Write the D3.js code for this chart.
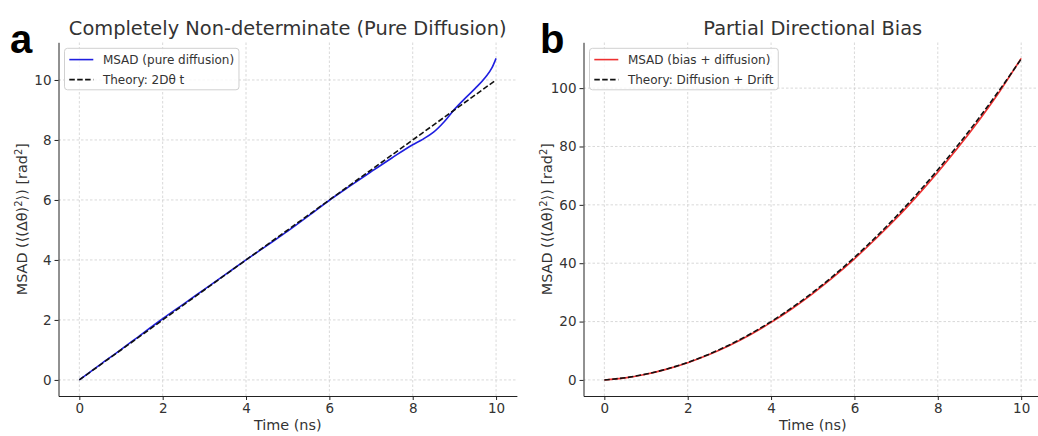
<!DOCTYPE html>
<html>
<head>
<meta charset="utf-8">
<script src="https://cdn.jsdelivr.net/npm/d3@7"></script>
<style>
body { margin: 0; background: #fff; }
text { font-family: "DejaVu Sans", sans-serif; fill: #333; }
.panelLetter { font-family: "Liberation Sans", Arial, sans-serif; font-weight: bold; fill: #000; }
</style>
</head>
<body>
<div class="chart"></div>
<script>
// panel a: pure diffusion
var timeA = [0, 0.5, 1, 1.5, 2, 2.5, 3, 3.5, 4, 4.5, 5, 5.5, 6, 6.5, 7, 7.5, 8, 8.25, 8.5, 8.75, 9, 9.25, 9.5, 9.75, 9.9, 10];
var msadA = [0, 0.51, 1.01, 1.53, 2.04, 2.53, 3.02, 3.51, 4.0, 4.48, 4.96, 5.47, 5.99, 6.47, 6.94, 7.4, 7.84, 8.03, 8.26, 8.6, 9.02, 9.38, 9.72, 10.1, 10.4, 10.72];
var theoryTimeA = [0, 10];
var theoryA = [0, 10];

// panel b: bias + diffusion
var timeB = [0, 0.5, 1, 1.5, 2, 2.5, 3, 3.5, 4, 4.5, 5, 5.5, 6, 6.5, 7, 7.5, 8, 8.5, 9, 9.5, 10];
var msadB = [0, 0.7, 1.95, 3.7, 5.9, 8.6, 11.8, 15.5, 19.7, 24.4, 29.6, 35.3, 41.5, 48.2, 55.3, 63.0, 71.2, 79.9, 89.2, 99.2, 110.2];
var theoryB = [0, 0.75, 2, 3.75, 6, 8.75, 12, 15.75, 20, 24.75, 30, 35.75, 42, 48.75, 56, 63.75, 72, 80.75, 90, 99.75, 110];

var xTicks = [0, 2, 4, 6, 8, 10];
var yTicksA = [0, 2, 4, 6, 8, 10];
var yTicksB = [0, 20, 40, 60, 80, 100];

var svgWidth = 1038;
var svgHeight = 436;

var svg = d3.select(".chart")
    .append("svg")
    .attr("width", svgWidth)
    .attr("height", svgHeight);

function drawPanel(p) {
    var x = d3.scaleLinear().domain([-0.5, 10.5]).range([p.left, p.right]);
    var y = d3.scaleLinear().domain(p.yDomain).range([396, 42.3]);
    var g = svg.append("g");

    // grid
    g.selectAll(".gx").data(xTicks).enter().append("line")
        .attr("x1", function(d) { return x(d); })
        .attr("x2", function(d) { return x(d); })
        .attr("y1", y.range()[0]).attr("y2", y.range()[1])
        .attr("stroke", "#cfcfcf").attr("stroke-width", 0.8)
        .attr("stroke-dasharray", "2.5,2");
    g.selectAll(".gy").data(p.yTicks).enter().append("line")
        .attr("y1", function(d) { return y(d); })
        .attr("y2", function(d) { return y(d); })
        .attr("x1", p.left).attr("x2", p.right)
        .attr("stroke", "#cfcfcf").attr("stroke-width", 0.8)
        .attr("stroke-dasharray", "2.5,2");

    var line = d3.line()
        .x(function(d) { return x(d[0]); })
        .y(function(d) { return y(d[1]); });

    g.append("path")
        .datum(d3.zip(p.time, p.msad))
        .attr("d", line.curve(d3.curveMonotoneX))
        .attr("fill", "none")
        .attr("stroke", p.color)
        .attr("stroke-width", 1.6);

    g.append("path")
        .datum(d3.zip(p.theoryTime, p.theory))
        .attr("d", line.curve(d3.curveMonotoneX))
        .attr("fill", "none")
        .attr("stroke", "#111")
        .attr("stroke-width", 1.6)
        .attr("stroke-dasharray", "5.5,2.4");

    // axes
    var bottom = g.append("g")
        .attr("transform", "translate(0," + y.range()[0] + ")")
        .call(d3.axisBottom(x).tickValues(xTicks).tickSize(4).tickPadding(3).tickSizeOuter(0));
    var leftAx = g.append("g")
        .attr("transform", "translate(" + p.left + ",0)")
        .call(d3.axisLeft(y).tickValues(p.yTicks).tickSize(4).tickPadding(3).tickSizeOuter(0));
    [bottom, leftAx].forEach(function(a) {
        a.select(".domain").attr("stroke", "#222").attr("stroke-width", 1);
        a.selectAll(".tick line").attr("stroke", "#222");
        a.selectAll(".tick text")
            .style("font-family", "DejaVu Sans")
            .style("font-size", "13.5px")
            .attr("fill", "#333");
    });

    // titles and labels
    g.append("text")
        .attr("x", (p.left + p.right) / 2)
        .attr("y", 35)
        .attr("text-anchor", "middle")
        .style("font-size", "19.4px")
        .text(p.title);

    g.append("text")
        .attr("class", "panelLetter")
        .attr("x", p.letterX)
        .attr("y", 53)
        .style("font-size", "40px")
        .text(p.letter);

    g.append("text")
        .attr("x", (x(0) + x(10)) / 2)
        .attr("y", 430)
        .attr("text-anchor", "middle")
        .style("font-size", "14.4px")
        .text("Time (ns)");

    var yl = g.append("text")
        .attr("transform", "translate(" + (p.left - 31.5) + "," + ((y.range()[0] + y.range()[1]) / 2) + ") rotate(-90)")
        .attr("text-anchor", "middle")
        .style("font-size", "14.4px");
    yl.append("tspan").text("MSAD (\u27E8(\u0394\u03B8)");
    yl.append("tspan").attr("baseline-shift", "super").style("font-size", "10px").text("2");
    yl.append("tspan").text("\u27E9) [rad");
    yl.append("tspan").attr("baseline-shift", "super").style("font-size", "10px").text("2");
    yl.append("tspan").text("]");

    // legend
    var lx = p.left + 6, ly = 48.3;
    var leg = g.append("g");
    var box = leg.append("rect")
        .attr("x", lx).attr("y", ly)
        .attr("height", 41.5)
        .attr("rx", 3)
        .attr("fill", "#fff").attr("fill-opacity", 0.8)
        .attr("stroke", "#d0d0d0").attr("stroke-width", 1);
    var entries = [
        { label: p.msadLabel, color: p.color, dash: null },
        { label: p.theoryLabel, color: "#111", dash: "5.5,2.4" }
    ];
    var maxW = 0;
    entries.forEach(function(e, i) {
        var cy = ly + 11.3 + i * 20;
        leg.append("line")
            .attr("x1", lx + 4.8).attr("x2", lx + 28.8)
            .attr("y1", cy).attr("y2", cy)
            .attr("stroke", e.color).attr("stroke-width", 1.6)
            .attr("stroke-dasharray", e.dash);
        var t = leg.append("text")
            .attr("x", lx + 38.4).attr("y", cy).attr("dy", "0.36em")
            .style("font-size", "12px")
            .text(e.label);
        maxW = Math.max(maxW, t.node().getComputedTextLength());
    });
    box.attr("width", 38.4 + maxW + 4.8);
}

drawPanel({
    left: 58.5, right: 516.9, yDomain: [-0.536, 11.256], yTicks: yTicksA,
    time: timeA, msad: msadA, theoryTime: theoryTimeA, theory: theoryA,
    color: "#1f1fe0", title: "Completely Non-determinate (Pure Diffusion)",
    letter: "a", letterX: 10,
    msadLabel: "MSAD (pure diffusion)", theoryLabel: "Theory: 2D\u03B8 t"
});

drawPanel({
    left: 583.5, right: 1042, yDomain: [-5.51, 115.71], yTicks: yTicksB,
    time: timeB, msad: msadB, theoryTime: timeB, theory: theoryB,
    color: "#ee3030", title: "Partial Directional Bias",
    letter: "b", letterX: 540,
    msadLabel: "MSAD (bias + diffusion)", theoryLabel: "Theory: Diffusion + Drift"
});
</script>
</body>
</html>
